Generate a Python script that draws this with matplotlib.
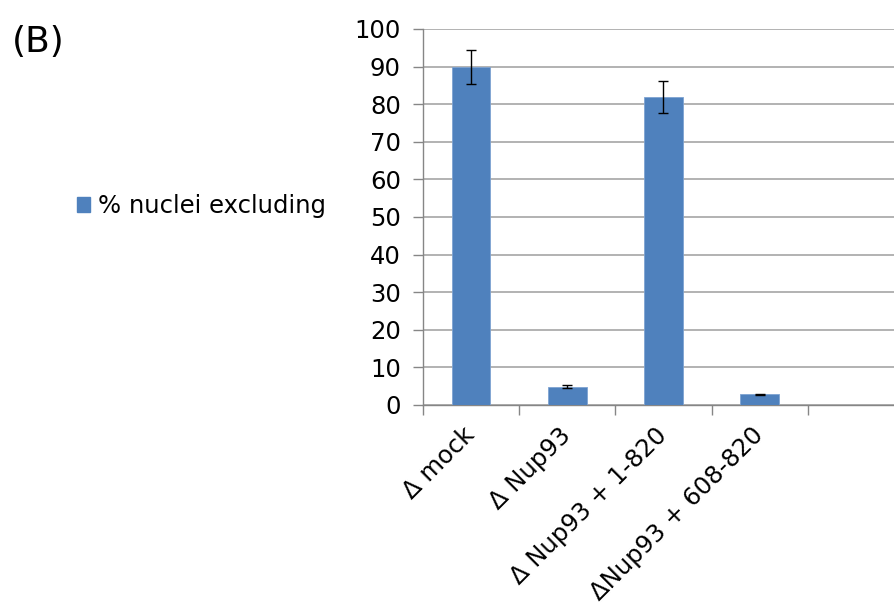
import numpy as np
import matplotlib
matplotlib.use("Agg")
from matplotlib import pyplot as plt
from matplotlib.patches import Patch

plt.rcParams['font.family'] = ['DejaVu Sans']

categories = ['\u0394 mock', '\u0394 Nup93', '\u0394 Nup93 + 1-820', '\u0394Nup93 + 608-820', '']
values = [90, 4.9, 81.9, 2.8, np.nan]
errors = [4.5, 0.4, 4.2, 0.2, 0]
yticks = list(range(0, 101, 10))
series_name = '% nuclei excluding'

bar_color = '#4F81BD'
grid_color = '#A6A6A6'
fs = 17.5

fig = plt.figure(figsize=(8.95, 6.08), dpi=100)
ax = fig.add_axes([423 / 895, 1 - 405 / 608, 481 / 895, 376 / 608])

x = np.arange(len(categories))
ax.bar(x, values, width=0.4, color=bar_color, edgecolor='#7EA3D2', linewidth=0.6, zorder=3)
ax.errorbar(x[:4], values[:4], yerr=errors[:4], fmt='none', ecolor='black',
            elinewidth=1, capsize=3.6, capthick=1, zorder=4)

ax.set_xlim(-0.5, len(categories) - 0.5)
ax.set_ylim(0, 100)
ax.set_yticks(yticks)
ax.set_yticklabels([str(v) for v in yticks], fontsize=fs)
ax.yaxis.grid(True, color=grid_color, linewidth=1.2, zorder=0)
ax.set_axisbelow(True)

ax.set_xticks(x)
ax.set_xticklabels(categories, rotation=45, ha='right', va='center',
                   rotation_mode='anchor', fontsize=fs)
ax.set_xticks(np.arange(len(categories) + 1) - 0.5, minor=True)
ax.tick_params(axis='x', which='major', length=0, pad=19)
ax.tick_params(axis='x', which='minor', length=7, width=1, color='#868686')
ax.tick_params(axis='y', length=7, width=1, color='#868686', pad=9)

for side in ['top', 'right']:
    ax.spines[side].set_visible(False)
for side in ['left', 'bottom']:
    ax.spines[side].set_color('#868686')
    ax.spines[side].set_linewidth(1)

fig.text(12 / 895, 1 - 42 / 608, '(B)', fontsize=26, va='center', ha='left')
fig.legend(handles=[Patch(facecolor=bar_color, edgecolor=bar_color)], labels=[series_name],
           loc='center left', bbox_to_anchor=(55 / 895, 1 - 206 / 608), frameon=False,
           fontsize=fs, handlelength=0.55, handleheight=0.55, handletextpad=0.3)

fig.savefig('out.png', dpi=100)
